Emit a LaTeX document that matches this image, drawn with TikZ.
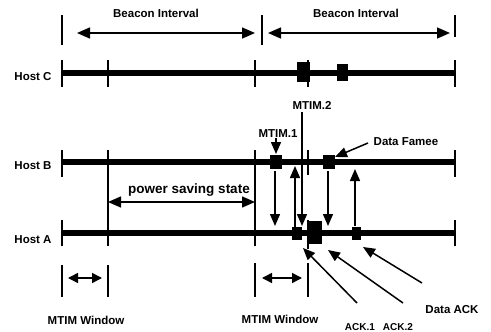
\documentclass[tikz,border=0pt]{standalone}
\usepackage{fontspec}
\setmainfont{Liberation Sans}
\usetikzlibrary{arrows.meta}
\begin{document}
\begin{tikzpicture}[x=1pt,y=-1pt,
  hostline/.style={line width=5.5pt},
  tk/.style={line width=1.3pt},
  arr/.style={line width=1.5pt,-{Triangle[length=12pt,width=10pt]}},
  darr/.style={line width=1.5pt,{Triangle[length=13pt,width=11pt]}-{Triangle[length=13pt,width=11pt]}},
  sarr/.style={line width=1.5pt,{Triangle[length=10pt,width=10pt]}-{Triangle[length=10pt,width=10pt]}},
  blk/.style={fill=black,draw=none,inner sep=0pt,rectangle},
  lbl/.style={font=\bfseries\fontsize{11.5}{13}\selectfont,inner sep=0pt},
]
\useasboundingbox (0,0) rectangle (491,332);

% ---- beacon intervals
\draw[tk] (62,15) -- (62,45);
\draw[tk] (262,15) -- (262,45);
\draw[tk] (455,15) -- (455,37);
\coordinate (b1l) at (77,33); \coordinate (b1r) at (255,33);
\coordinate (b2l) at (268,33); \coordinate (b2r) at (450,33);
\draw[darr] (b1l) -- (b1r);
\draw[darr] (b2l) -- (b2r);
\node[lbl] (bi1) at (156,13) {Beacon Interval};
\node[lbl] (bi2) at (356,13) {Beacon Interval};

% ---- host lines
\coordinate (cL) at (62,73);  \coordinate (cR) at (455,73);
\coordinate (bL) at (62,162); \coordinate (bR) at (455,162);
\coordinate (aL) at (62,233); \coordinate (aR) at (455,233);
\draw[hostline] (cL) -- (cR);
\draw[hostline] (bL) -- (bR);
\draw[hostline] (aL) -- (aR);
\node[lbl] (hc) at (33,77) {Host C};
\node[lbl] (hb) at (33,166) {Host B};
\node[lbl] (ha) at (33,240) {Host A};

% ticks on host lines
\foreach \x in {62,108,255,308,455} \draw[tk] (\x,60) -- (\x,87);
\foreach \x in {62,455} \draw[tk] (\x,150) -- (\x,177);
\draw[tk] (308,150) -- (308,175);
\foreach \x in {62,455} \draw[tk] (\x,220) -- (\x,246);
\draw[tk] (108,150) -- (108,246);
\draw[tk] (255,150) -- (255,246);
\draw[tk] (308,220) -- (308,249);

% ---- blocks
\node[blk,minimum width=13pt,minimum height=20pt] (c1) at (303.5,72) {};
\node[blk,minimum width=11pt,minimum height=17pt] (c2) at (342.5,72) {};
\node[blk,minimum width=12pt,minimum height=14pt] (b1) at (276,162) {};
\node[blk,minimum width=12pt,minimum height=14pt] (b2) at (329,162) {};
\node[blk,minimum width=10pt,minimum height=13pt] (a1) at (297,233) {};
\node[blk,minimum width=14pt,minimum height=23pt] (a2) at (315,232) {};
\node[blk,minimum width=9pt,minimum height=13pt] (a3) at (356,233) {};

% ---- power saving state
\coordinate (psl) at (108,202); \coordinate (psr) at (255,202);
\draw[darr] (psl) -- (psr);
\node[lbl,font=\bfseries\fontsize{13.5}{15}\selectfont] (ps) at (189,190) {power saving state};

% ---- MTIM labels and arrows
\node[lbl] (m1) at (278,134) {MTIM.1};
\node[lbl] (m2) at (312,105) {MTIM.2};
\coordinate (m1e) at (276,154);
\draw[arr] (m1.south -| m1e) -- (m1e);
\coordinate (m2s) at (302,112); \coordinate (m2e) at (302,226);
\draw[arr] (m2s) -- (m2e);

\coordinate (d1s) at (275,171); \coordinate (d1e) at (275,226);
\draw[arr] (d1s) -- (d1e);
\coordinate (u1s) at (295,228); \coordinate (u1e) at (295,166);
\draw[arr] (u1s) -- (u1e);
\coordinate (d2s) at (328,171); \coordinate (d2e) at (328,226);
\draw[arr] (d2s) -- (d2e);
\coordinate (u2s) at (355,226); \coordinate (u2e) at (355,169);
\draw[arr] (u2s) -- (u2e);

% ---- Data frame
\node[lbl] (df) at (406,142) {Data Famee};
\coordinate (dfs) at (368,143); \coordinate (dfe) at (335,157);
\draw[arr] (dfs) -- (dfe);

% ---- MTIM window
\draw[tk] (62,265) -- (62,297);
\draw[tk] (108,265) -- (108,297);
\coordinate (w1l) at (68,278); \coordinate (w1r) at (102,278);
\draw[sarr] (w1l) -- (w1r);
\draw[tk] (255,263) -- (255,297);
\draw[tk] (308,263) -- (308,297);
\coordinate (w2l) at (262,278); \coordinate (w2r) at (302,278);
\draw[sarr] (w2l) -- (w2r);
\node[lbl] (mw1) at (86,320) {MTIM Window};
\node[lbl] (mw2) at (280,319) {MTIM Window};

% ---- ACKs
\node[lbl,font=\bfseries\fontsize{10}{12}\selectfont] (ack1) at (360,327) {ACK.1};
\node[lbl,font=\bfseries\fontsize{10}{12}\selectfont] (ack2) at (398,327) {ACK.2};
\node[lbl] (dack) at (452,310) {Data ACK};
\coordinate (k1s) at (357,303); \coordinate (k1e) at (303,248);
\coordinate (k2s) at (403,303); \coordinate (k2e) at (328,250);
\coordinate (k3s) at (422,283); \coordinate (k3e) at (363,247);
\draw[arr] (k1s) -- (k1e);
\draw[arr] (k2s) -- (k2e);
\draw[arr] (k3s) -- (k3e);
\end{tikzpicture}
\end{document}
